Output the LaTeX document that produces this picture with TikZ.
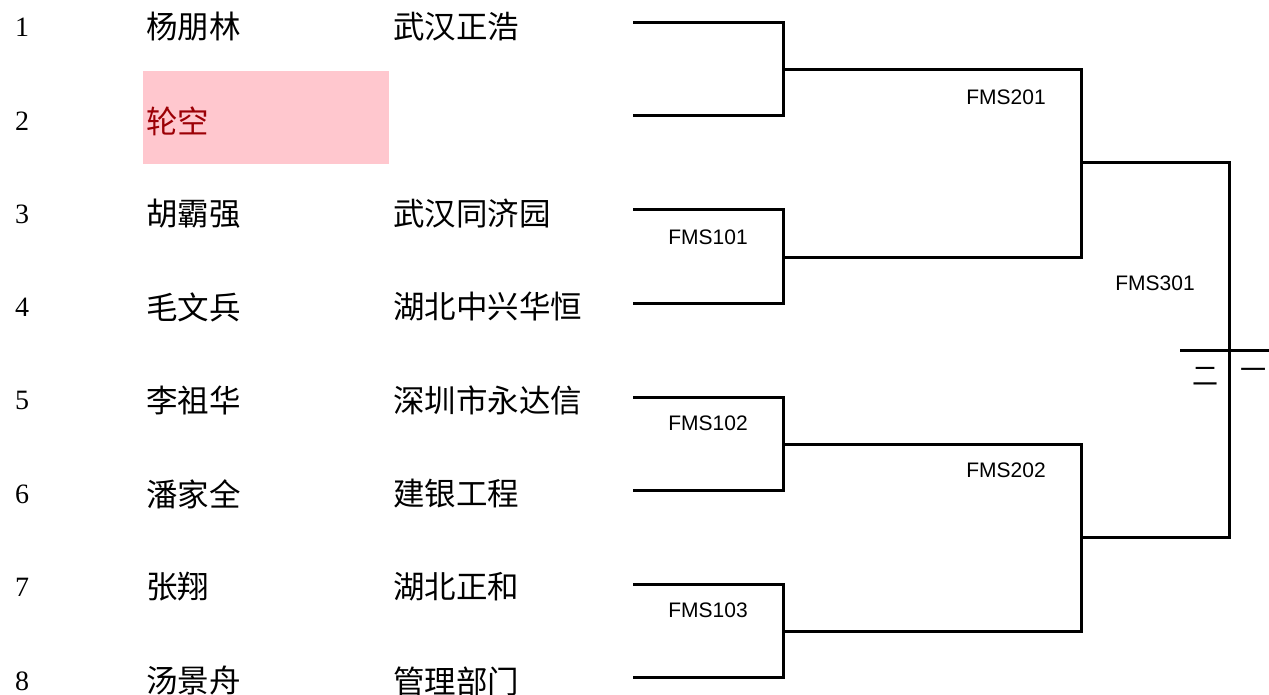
\documentclass[tikz,border=0pt]{standalone}
\usepackage{fontspec}
\setmainfont{Liberation Serif}
\newfontfamily\cjk{Noto Sans CJK SC}
\newfontfamily\lbl{Liberation Sans}
\definecolor{badfill}{HTML}{FFC7CE}
\definecolor{badtext}{HTML}{9C0006}
\begin{document}
\begin{tikzpicture}[x=1pt,y=-1pt,
  num/.style={font=\fontsize{28}{28}\selectfont, inner sep=0pt, anchor=center},
  player/.style={font=\cjk\fontsize{31.5}{31.5}\selectfont, inner sep=0pt, anchor=west},
  team/.style={font=\cjk\fontsize{31.5}{31.5}\selectfont, inner sep=0pt, anchor=west},
  matchlbl/.style={font=\lbl\fontsize{21}{21}\selectfont, inner sep=0pt, anchor=center},
  bracket/.style={line width=3pt, line join=miter},
  byebox/.style={fill=badfill, draw=none, inner sep=0pt, minimum width=246pt, minimum height=93pt, anchor=north west}
]
\useasboundingbox (0,0) rectangle (1269,695);

% bye cell
\node[byebox] (bye) at (143,71) {};

% numbers
\foreach \i/\y in {1/27,2/121,3/214,4/307,5/400,6/494,7/587,8/681}{
  \node[num] (n\i) at (22,\y) {\i};
}
% players
\node[player] (p1) at (146,27) {杨朋林};
\node[player, text=badtext] (p2) at (146,121) {轮空};
\node[player] (p3) at (146,214) {胡霸强};
\node[player] (p4) at (146,307) {毛文兵};
\node[player] (p5) at (146,400) {李祖华};
\node[player] (p6) at (146,494) {潘家全};
\node[player] (p7) at (146,587) {张翔};
\node[player] (p8) at (146,681) {汤景舟};
% teams
\node[team] (t1) at (393,27) {武汉正浩};
\node[team] (t3) at (393,214) {武汉同济园};
\node[team] (t4) at (393,307) {湖北中兴华恒};
\node[team] (t5) at (393,400) {深圳市永达信};
\node[team] (t6) at (393,494) {建银工程};
\node[team] (t7) at (393,587) {湖北正和};
\node[team] (t8) at (393,681) {管理部门};

% bracket coordinates
\coordinate (s1) at (633,23);
\coordinate (s2) at (633,116);
\coordinate (s3) at (633,210);
\coordinate (s4) at (633,303);
\coordinate (s5) at (633,397);
\coordinate (s6) at (633,490);
\coordinate (s7) at (633,584);
\coordinate (s8) at (633,677);
\coordinate (m1) at (783,70);
\coordinate (m2) at (783,257);
\coordinate (m3) at (783,444);
\coordinate (m4) at (783,631);
\coordinate (q1) at (1081,163);
\coordinate (q2) at (1081,537);
\coordinate (f) at (1229,350);
\coordinate (h1) at (1180,350);
\coordinate (h2) at (1269,350);

\draw[bracket] (s1) -| (m1) |- (s2);
\draw[bracket] (s3) -| (m2) |- (s4);
\draw[bracket] (s5) -| (m3) |- (s6);
\draw[bracket] (s7) -| (m4) |- (s8);
\draw[bracket] (m1) -| (q1) |- (m2);
\draw[bracket] (m3) -| (q2) |- (m4);
\draw[bracket] (q1) -| (f) |- (q2);
\draw[bracket] (h1) -- (h2);

% match labels
\node[matchlbl] (l101) at (708,237) {FMS101};
\node[matchlbl] (l102) at (708,423) {FMS102};
\node[matchlbl] (l103) at (708,610) {FMS103};
\node[matchlbl] (l201) at (1006,97) {FMS201};
\node[matchlbl] (l202) at (1006,470) {FMS202};
\node[matchlbl] (l301) at (1155,283) {FMS301};

% places
\node[font=\cjk\fontsize{26}{26}\selectfont, inner sep=0pt] (second) at (1205,376) {二};
\node[font=\cjk\fontsize{26}{26}\selectfont, inner sep=0pt] (first) at (1253,374) {一};
\end{tikzpicture}
\end{document}
